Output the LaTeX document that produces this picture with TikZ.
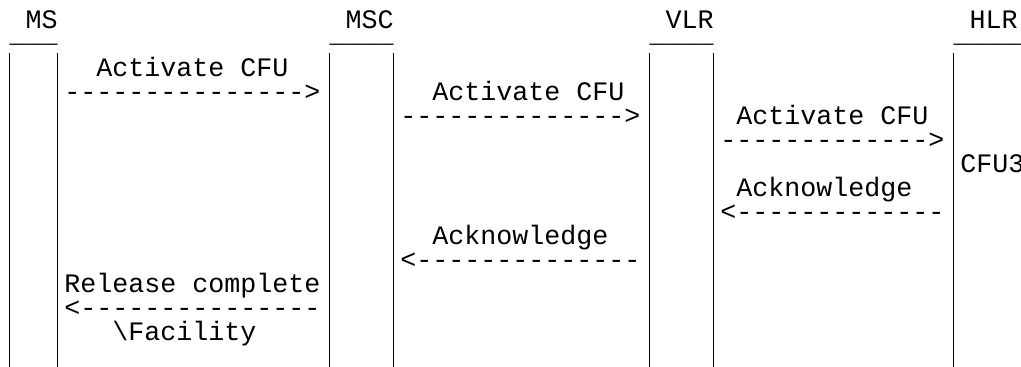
\documentclass[tikz,border=0pt]{standalone}
\usepackage{fontspec}
\newfontfamily\seqmono{Liberation Mono}

\begin{document}
\begin{tikzpicture}[x=0.75pt,y=0.75pt,yscale=-1,xscale=1,
  asciitext/.style={anchor=base west,inner sep=0pt,font=\seqmono\fontsize{20}{24}\selectfont},
  cellrule/.style={line width=0.75pt}]
\useasboundingbox (0,0) rectangle (1021,367);
\clip (0,0) rectangle (1021,367);

%Straight Lines MS
\draw [cellrule]   (9.4,53.5) -- (9.4,367) ;
\draw [cellrule]   (57.4,53.5) -- (57.4,367) ;
%Straight Lines MSC
\draw [cellrule]   (329.4,53.5) -- (329.4,367) ;
\draw [cellrule]   (393.4,53.5) -- (393.4,367) ;
%Straight Lines VLR
\draw [cellrule]   (649.4,53.5) -- (649.4,367) ;
\draw [cellrule]   (713.4,53.5) -- (713.4,367) ;
%Straight Lines HLR
\draw [cellrule]   (953.4,53.5) -- (953.4,367) ;

% Text Node headers
\draw (25.4,28.5) node (ms) [asciitext] {MS};
\draw (345.4,28.5) node (msc) [asciitext] {MSC};
\draw (665.4,28.5) node (vlr) [asciitext] {VLR};
\draw (969.4,28.5) node (hlr) [asciitext] {HLR};
\draw (9.4,42.5) node (msbar) [asciitext] {\_\_\_};
\draw (329.4,42.5) node (mscbar) [asciitext] {\_\_\_\_};
\draw (649.4,42.5) node (vlrbar) [asciitext] {\_\_\_\_};
\draw (953.4,42.5) node (hlrbar) [asciitext] {\_\_\_\_\_};

% Text Node MS - MSC
\draw (96,76.5) node (actA) [asciitext] {Activate CFU};
\draw (64,100.5) node (actAarr) [asciitext] {--------------->};
\draw (64,292.5) node (rel) [asciitext] {Release complete};
\draw (64,316.5) node (relarr) [asciitext] {<---------------};
\draw (112,340.5) node (fac) [asciitext] {\textbackslash Facility};

% Text Node MSC - VLR
\draw (432,100.5) node (actB) [asciitext] {Activate CFU};
\draw (400,124.5) node (actBarr) [asciitext] {-------------->};
\draw (432,244.5) node (ackB) [asciitext] {Acknowledge};
\draw (400,268.5) node (ackBarr) [asciitext] {<--------------};

% Text Node VLR - HLR
\draw (736,124.5) node (actC) [asciitext] {Activate CFU};
\draw (720,148.5) node (actCarr) [asciitext] {------------->};
\draw (736,196.5) node (ackC) [asciitext] {Acknowledge};
\draw (720,220.5) node (ackCarr) [asciitext] {<-------------};

% Text Node HLR
\draw (960,172.5) node (cfu) [asciitext] {CFU3};

\end{tikzpicture}
\end{document}
